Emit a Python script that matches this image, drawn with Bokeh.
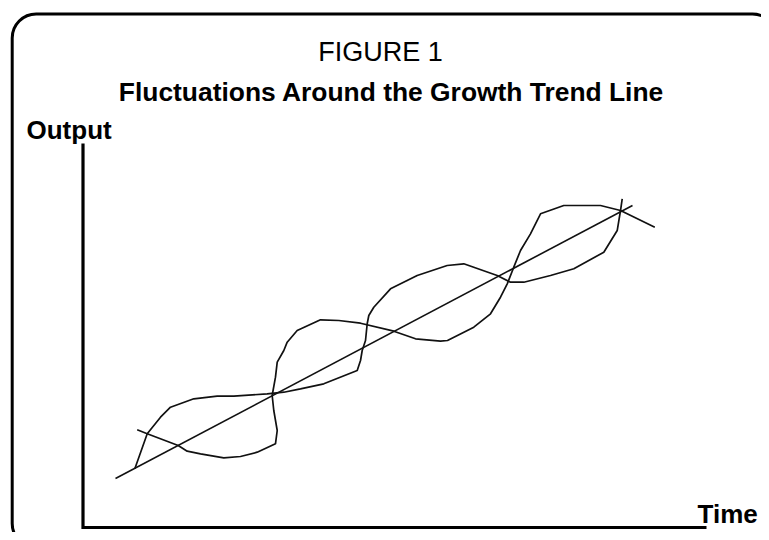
from bokeh.plotting import figure
from bokeh.models import Range1d, Label
from bokeh.embed import file_html
from bokeh.resources import INLINE

# ---------------- data (time / output units, axes span 0..100) ----------------
axis_time_max = 100
axis_output_max = 100

trend_time = [5.21, 88.13]
trend_output = [12.76, 83.85]

cycle_a_time = [8.69, 10.30, 15.27, 16.71, 18.85, 22.58, 25.26, 27.94, 30.87, 31.15,
                30.60, 30.34, 30.87, 31.15, 32.21, 32.75, 34.35, 38.09, 41.03, 44.51,
                49.85, 53.33, 57.34, 58.46, 62.68, 65.36, 66.96, 68.04, 69.09, 70.17,
                71.77, 73.38, 77.11, 83.00, 86.21, 91.71]
cycle_a_output = [25.44, 24.40, 21.35, 19.87, 19.19, 18.15, 18.49, 19.61, 21.80, 25.26,
                  30.47, 34.38, 39.14, 43.05, 46.09, 48.26, 51.30, 54.09, 53.91, 53.20,
                  51.12, 49.14, 48.52, 48.70, 52.16, 55.65, 59.97, 63.46, 67.79, 72.14,
                  76.48, 81.69, 83.85, 83.85, 82.55, 78.20]

cycle_b_time = [8.31, 10.30, 12.43, 14.03, 17.77, 21.52, 24.19, 29.54, 32.21, 34.88,
                38.62, 43.98, 44.51, 44.78, 45.31, 45.58, 45.84, 46.64, 49.32, 53.60,
                58.41, 61.07, 66.43, 68.56, 70.70, 74.98, 78.72, 83.53, 85.68, 86.21,
                86.48]
cycle_b_output = [15.29, 24.40, 28.72, 31.33, 33.52, 34.19, 34.19, 34.82, 35.23, 36.12,
                  37.42, 40.89, 43.49, 46.09, 48.70, 53.05, 55.21, 57.37, 62.16, 65.63,
                  68.23, 68.67, 65.63, 63.88, 63.88, 65.63, 67.37, 71.69, 77.34, 82.55,
                  85.60]

# ---------------- layout helpers (canvas pixels -> data units) ----------------
W, H = 761, 532
X0_PX, Y0_PX = 82.5, 527.0
T_PX = 6.235
V_PX = 3.84


def t_of(px):
    return (px - X0_PX) / T_PX


def v_of(py):
    return (Y0_PX - py) / V_PX


p = figure(width=W, height=H, output_backend="svg", toolbar_location=None,
           x_range=Range1d(t_of(0), t_of(W)),
           y_range=Range1d(v_of(H), v_of(0)),
           x_axis_location=None, y_axis_location=None, min_border=0)
p.grid.visible = False
p.outline_line_color = None
p.background_fill_color = "white"
p.border_fill_color = "white"

# rounded frame around the figure
p.quad(left=t_of(11.7), right=t_of(776), top=v_of(13.5), bottom=v_of(547),
       fill_color=None, line_color="black", line_width=3, border_radius=24)

# axes
p.line([0, 0, axis_time_max], [axis_output_max, 0, 0], line_color="black",
       line_width=3.2, line_join="miter")

# trend and fluctuation curves
p.line(trend_time, trend_output, line_color="#111111", line_width=1.6)
p.line(cycle_a_time, cycle_a_output, line_color="#111111", line_width=1.7)
p.line(cycle_b_time, cycle_b_output, line_color="#111111", line_width=1.7)

FONT = "Liberation Sans"
p.add_layout(Label(x=t_of(380), y=v_of(51), text="FIGURE 1", text_align="center",
                   text_baseline="alphabetic", text_font=FONT, text_font_size="27px",
                   text_color="black"))
p.add_layout(Label(x=t_of(391), y=v_of(91), text="Fluctuations Around the Growth Trend Line",
                   text_align="center", text_baseline="alphabetic", text_font=FONT,
                   text_font_size="26.4px", text_font_style="bold", text_color="black"))
p.add_layout(Label(x=t_of(26), y=v_of(129), text="Output", text_align="left",
                   text_baseline="alphabetic", text_font=FONT, text_font_size="26px",
                   text_font_style="bold", text_color="black"))
p.add_layout(Label(x=t_of(697), y=v_of(513), text="Time", text_align="left",
                   text_baseline="alphabetic", text_font=FONT, text_font_size="26px",
                   text_font_style="bold", text_color="black"))

open("out.html", "w").write(file_html(p, INLINE))
